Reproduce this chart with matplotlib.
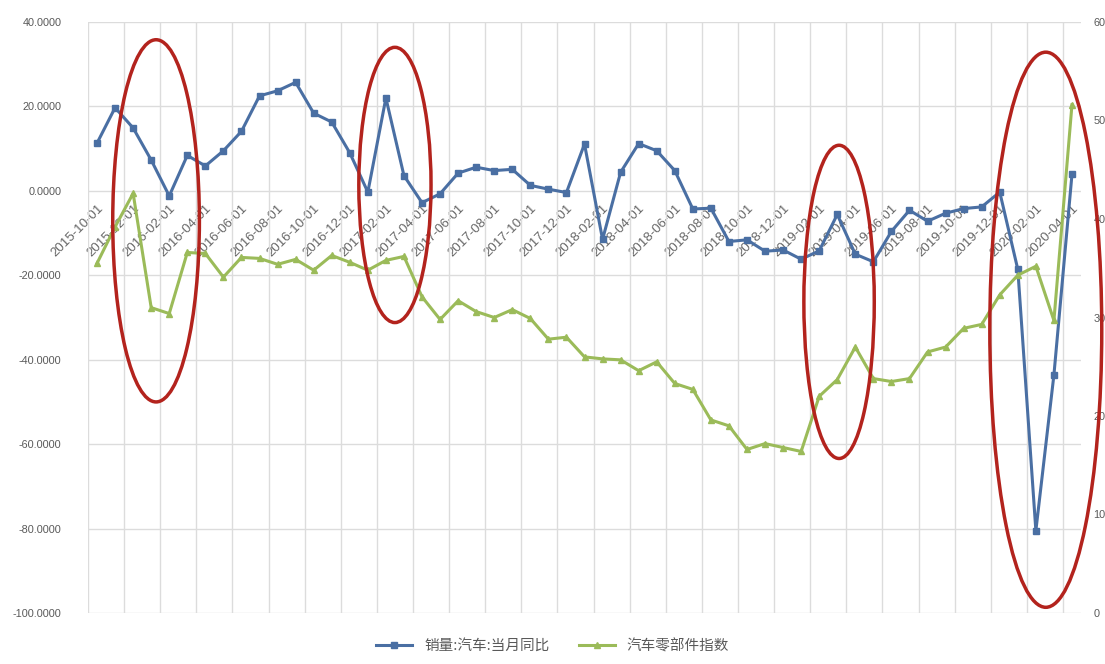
import numpy as np
import pandas as pd
import matplotlib
matplotlib.use('Agg')
import matplotlib.pyplot as plt
from matplotlib.patches import Ellipse
from matplotlib.lines import Line2D

plt.rcParams['font.family'] = ['Liberation Sans', 'Noto Sans CJK SC', 'DejaVu Sans']

# monthly categories 2015-10 .. 2020-04
months = pd.date_range('2015-10-01', periods=55, freq='MS')
month_labels = [d.strftime('%Y-%m-%d') for d in months]

# 销量:汽车:当月同比 (left axis, %)
sales_yoy = [11.3, 19.7, 14.9, 7.3, -1.2, 8.4, 5.9, 9.5, 14.1, 22.5,
             23.7, 25.7, 18.4, 16.3, 9.0, -0.3, 22.0, 3.6, -2.8, -0.7,
             4.2, 5.6, 4.8, 5.1, 1.3, 0.4, -0.4, 11.1, -11.5, 4.4,
             11.2, 9.5, 4.8, -4.3, -4.1, -12.0, -11.6, -14.3, -14.0, -16.2,
             -14.2, -5.6, -15.0, -16.8, -9.6, -4.6, -7.2, -5.3, -4.2, -3.8,
             -0.3, -18.6, -80.5, -43.6, 3.9]

# 汽车零部件指数 (right axis)
parts_index = [35.5, 39.2, 42.6, 31.0, 30.4, 36.6, 36.5, 34.1, 36.1, 36.0,
               35.4, 35.9, 34.8, 36.3, 35.6, 34.8, 35.8, 36.2, 32.1, 29.8,
               31.7, 30.6, 30.0, 30.8, 29.9, 27.8, 28.0, 26.0, 25.8, 25.7,
               24.6, 25.5, 23.3, 22.7, 19.6, 19.0, 16.6, 17.2, 16.8, 16.4,
               22.0, 23.7, 27.0, 23.8, 23.5, 23.8, 26.5, 27.0, 28.9, 29.3,
               32.3, 34.3, 35.2, 29.7, 51.6]

blue = '#4a6fa3'
green = '#9bbb59'
grid_c = '#dcdcdc'
text_c = '#595959'

x = np.arange(len(months))

fig = plt.figure(figsize=(11.05, 6.64), dpi=100)
ax = fig.add_axes([88 / 1105, 1 - 613 / 664, (1081 - 88) / 1105, (613 - 22) / 664])
ax2 = ax.twinx()

ax.plot(x, sales_yoy, color=blue, lw=2.2, marker='s', ms=4.5, zorder=3)
ax2.plot(x, parts_index, color=green, lw=2.2, marker='^', ms=4, zorder=3)

ax.set_xlim(-0.5, len(months) - 0.5)
ax.set_ylim(-100, 40)
ax.set_yticks(np.arange(-100, 41, 20))
ax.set_yticklabels(['%.4f' % v for v in np.arange(-100, 41, 20)])
ax2.set_ylim(0, 60)
ax2.set_yticks(np.arange(0, 61, 10))

# category axis sits on the zero line
ax.spines['bottom'].set_position(('data', 0))
for a in (ax, ax2):
    for s in a.spines.values():
        s.set_visible(False)
ax.set_xticks(x[::2])
ax.set_xticklabels(month_labels[::2], rotation=45, ha='right', va='top',
                   rotation_mode='anchor', fontsize=9.5, color='#666666')
ax.set_xticks(np.arange(-0.5, len(months), 2), minor=True)
ax.tick_params(axis='x', which='both', length=0, pad=8)
ax.tick_params(axis='y', length=0, pad=19, labelsize=7.8, labelcolor=text_c)
ax2.tick_params(axis='y', length=0, pad=9, labelsize=7.8, labelcolor=text_c)

ax.grid(axis='y', color=grid_c, lw=1)
ax.grid(axis='x', which='minor', color=grid_c, lw=1)
ax.set_axisbelow(True)

# red ovals marking the four periods
ovals = [(3.27, -7.1, 4.8, 85.8),
         (16.5, 1.4, 4.0, 65.2),
         (41.1, -26.3, 3.9, 74.2),
         (52.55, -32.9, 6.2, 131.5)]
for cx, cy, w, h in ovals:
    ax2.add_patch(Ellipse((cx, cy), w, h, transform=ax.transData, fill=False,
                          ec='#b3231d', lw=2.5, clip_on=False, zorder=5))

handles = [Line2D([], [], color=blue, lw=2.2, marker='s', ms=4.5),
           Line2D([], [], color=green, lw=2.2, marker='^', ms=4)]
fig.legend(handles, ['销量:汽车:当月同比', '汽车零部件指数'], loc='center',
           bbox_to_anchor=(0.5, 1 - 646 / 664), ncol=2, frameon=False,
           prop={'family': ['Noto Sans CJK SC'], 'size': 10.5},
           labelcolor=text_c, handlelength=2.5, columnspacing=2.0)

fig.savefig('out.png', dpi=100)
